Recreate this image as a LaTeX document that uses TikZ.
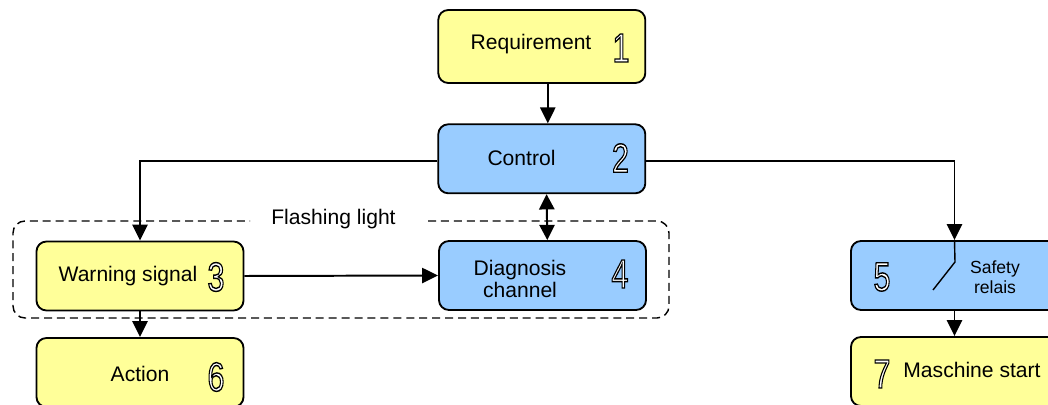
\documentclass[tikz,border=0pt]{standalone}
\usepackage{fontspec}
\setmainfont{Liberation Sans}
\usepackage{xcolor}
\usepackage{graphicx}
\usepackage{tikz}
\usetikzlibrary{calc}
\usetikzlibrary{arrows.meta}
\definecolor{reqyellow}{RGB}{255,255,153}
\definecolor{ctrlblue}{RGB}{153,204,255}
\newcommand{\stepno}[1]{\scalebox{0.75}[1]{\textcolor{white}{\special{pdf:literal direct 0 G 2 Tr 1 w}#1\special{pdf:literal direct 0 Tr}}}}
\tikzset{
  blk/.style={draw=black, line width=1.3pt, rounded corners=0.25cm, minimum width=5.175cm, minimum height=1.725cm, inner sep=0pt},
  yblk/.style={blk, fill=reqyellow},
  bblk/.style={blk, fill=ctrlblue},
  lbl/.style={font=\fontsize{15}{16.3}\selectfont, inner sep=0pt, align=center},
  smalllbl/.style={font=\fontsize{12.5}{14.2}\selectfont, inner sep=0pt, align=center},
  num/.style={font=\fontsize{29}{30}\selectfont, inner sep=0pt},
  conn/.style={black, line width=1.4pt, -{Triangle[length=0.4cm, width=0.38cm]}},
  bothconn/.style={black, line width=1.4pt, {Triangle[length=0.38cm, width=0.38cm]}-{Triangle[length=0.38cm, width=0.38cm]}},
}

\begin{document}
\begin{tikzpicture}[x=0.025cm, y=-0.025cm]
\clip (0,0) rectangle (1048,405);
\draw[black, line width=1pt, dash pattern=on 5.7pt off 3.5pt, rounded corners=0.3cm] (428,221) -- (669,221) -- (669,318) -- (13,318) -- (13,221) -- (250,221);
\node[lbl, anchor=base] (flashlbl) at (333.5,225) {Flashing light};

\node[yblk, minimum height=1.825cm] (req) at (541.8,46.5) {};
\node[bblk] (ctrl) at (541.8,158.8) {};
\node[yblk] (warn) at (140,276) {};
\node[bblk] (diag) at (542.5,275.5) {};
\node[bblk] (safe) at (954.5,275.5) {};
\node[yblk] (act) at (140,372.5) {};
\node[yblk] (mstart) at (954.5,371.5) {};

\node[lbl, anchor=base] (reqtxt) at (531,50) {Requirement};
\node[lbl, anchor=base] (ctrltxt) at (521.5,166) {Control};
\node[lbl, anchor=base] (warntxt) at (128,282) {Warning signal};
\node[lbl] (diagtxt) at (520,279) {Diagnosis\\channel};
\node[smalllbl] (safetxt) at (995,277) {Safety\\relais};
\node[lbl, anchor=base] (acttxt) at (140,382) {Action};
\node[lbl, anchor=base] (mstarttxt) at (972,378) {Maschine start};

\node[num] (n1) at (621,48) {\stepno{1}};
\node[num] (n2) at (620.5,158) {\stepno{2}};
\node[num] (n3) at (216,277) {\stepno{3}};
\node[num] (n4) at (620,274) {\stepno{4}};
\node[num] (n5) at (882,277) {\stepno{5}};
\node[num] (n6) at (216,377) {\stepno{6}};
\node[num] (n7) at (882,374) {\stepno{7}};

\draw[conn] ([xshift=0.15cm]req.south) -- ([xshift=0.15cm]ctrl.north);
\draw[conn] ([yshift=-0.06cm]ctrl.west) -| (warn.north);
\draw[conn] ([yshift=-0.06cm]ctrl.east) -| (safe.north);
\draw[bothconn] ([xshift=0.12cm]ctrl.south) -- ([xshift=0.12cm]diag.north);
\draw[conn] (warn.east) -- (diag.west);
\draw[conn] (warn.south) -- (act.north);
\draw[conn] (safe.south) -- (mstart.north);
\coordinate (swtop) at (955,262);
\coordinate (swend) at (933,290);
\draw[black, line width=1pt] (safe.north) -- (swtop) -- (swend);
\end{tikzpicture}
\end{document}
